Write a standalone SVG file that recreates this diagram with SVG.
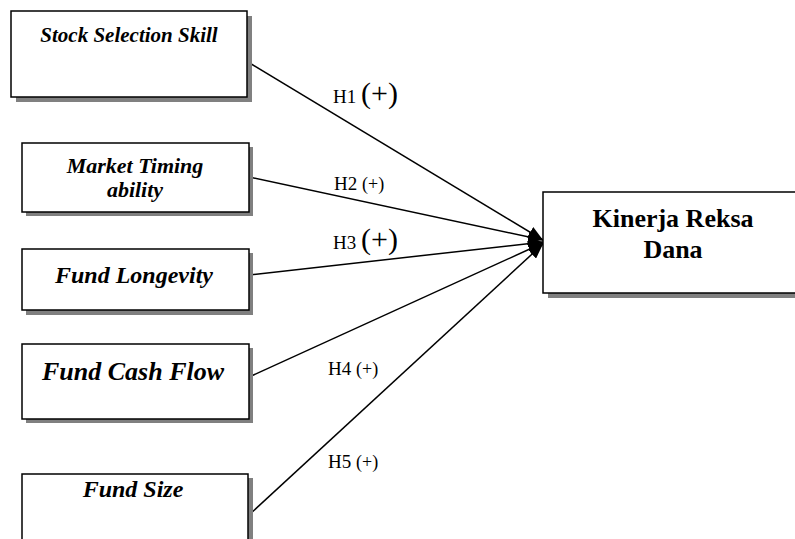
<svg xmlns="http://www.w3.org/2000/svg" width="795" height="539" viewBox="0 0 795 539">
<style>
.shadow{fill:#808080;stroke:none}
.box{fill:#fff;stroke:#000;stroke-width:1.5}
.lbl{font-family:"Liberation Serif","Times New Roman",serif;font-weight:bold;font-style:italic;fill:#000;text-anchor:middle}
.tgt{font-family:"Liberation Serif","Times New Roman",serif;font-weight:bold;fill:#000;text-anchor:middle;font-size:26px}
.h{font-family:"Liberation Serif","Times New Roman",serif;fill:#000}
.conn{stroke:#000;stroke-width:1.5;fill:none;marker-end:url(#arr)}
</style>
<defs>
<marker id="arr" markerUnits="userSpaceOnUse" markerWidth="16" markerHeight="12" refX="15" refY="6" orient="auto">
<path d="M0,0 L15,6 L0,12 Z" fill="#000"/>
</marker>
</defs>
<rect width="795" height="539" fill="#fff"/>
<g id="connectors">
<line class="conn" x1="248" y1="62" x2="543" y2="240"/>
<line class="conn" x1="249" y1="177" x2="543" y2="240"/>
<line class="conn" x1="249" y1="275" x2="543" y2="242"/>
<line class="conn" x1="249" y1="377" x2="543" y2="243"/>
<line class="conn" x1="249" y1="515" x2="543" y2="244"/>
</g>
<g id="n1">
<rect class="shadow" x="16" y="16" width="236" height="86"/>
<rect class="box" x="11" y="11" width="236" height="86"/>
<text class="lbl" x="129" y="42" font-size="21">Stock Selection Skill</text>
</g>
<g id="n2">
<rect class="shadow" x="26" y="147" width="227" height="69"/>
<rect class="box" x="22" y="143" width="227" height="69"/>
<text class="lbl" x="135" y="173" font-size="22">Market Timing</text>
<text class="lbl" x="135" y="197" font-size="22">ability</text>
</g>
<g id="n3">
<rect class="shadow" x="26" y="253" width="227" height="62"/>
<rect class="box" x="22" y="249" width="227" height="61"/>
<text class="lbl" x="134" y="283" font-size="24">Fund Longevity</text>
</g>
<g id="n4">
<rect class="shadow" x="26" y="348" width="227" height="75"/>
<rect class="box" x="22" y="344" width="227" height="75"/>
<text class="lbl" x="133" y="380" font-size="26">Fund Cash Flow</text>
</g>
<g id="n5">
<rect class="shadow" x="26" y="478" width="227" height="75"/>
<rect class="box" x="22" y="474" width="226" height="75"/>
<text class="lbl" x="133" y="497" font-size="24">Fund Size</text>
</g>
<g id="target">
<rect class="shadow" x="548" y="197" width="260" height="101"/>
<rect class="box" x="543" y="192" width="260" height="101"/>
<text class="tgt" x="673" y="227">Kinerja Reksa</text>
<text class="tgt" x="673" y="258">Dana</text>
</g>
<g id="labels">
<text class="h" x="333" y="103" font-size="19">H1 <tspan font-size="30">(+)</tspan></text>
<text class="h" x="334" y="190" font-size="19">H2 <tspan font-size="18">(+)</tspan></text>
<text class="h" x="333" y="249" font-size="19">H3 <tspan font-size="30">(+)</tspan></text>
<text class="h" x="328" y="375" font-size="19">H4 <tspan font-size="18">(+)</tspan></text>
<text class="h" x="328" y="468" font-size="19">H5 <tspan font-size="18">(+)</tspan></text>
</g>
</svg>
